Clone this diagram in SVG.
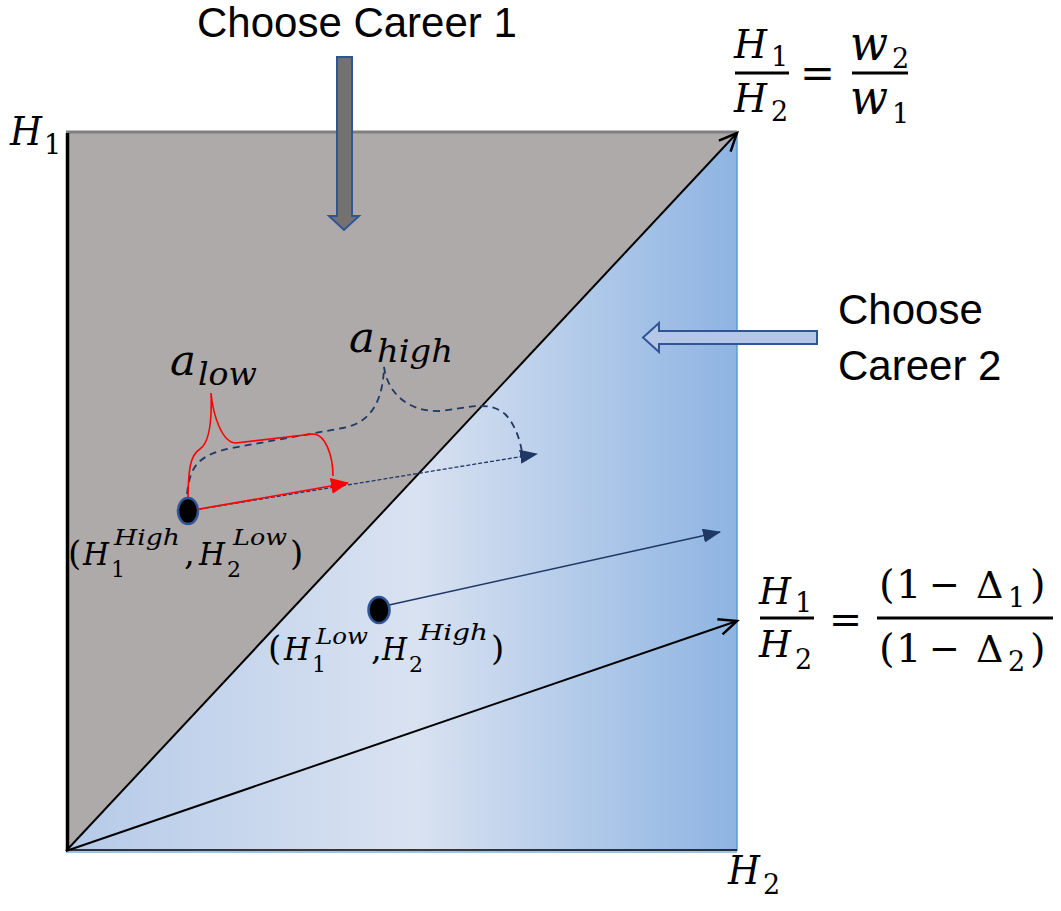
<svg xmlns="http://www.w3.org/2000/svg" width="1061" height="911" viewBox="0 0 1061 911">
<style>
.cal{font-family:"Liberation Sans","Open Sans",sans-serif;font-size:42px;fill:#000}
.mi{font-family:"DejaVu Serif","Liberation Serif",serif;font-style:italic;fill:#000}
.mu{font-family:"DejaVu Serif","Liberation Serif",serif;fill:#000}
.bar{fill:#000}
.pt{fill:#000;stroke:#2f5597;stroke-width:2.5}
</style>
<defs>
<linearGradient id="blueGrad" gradientUnits="userSpaceOnUse" x1="66" y1="0" x2="737" y2="0">
<stop offset="0" stop-color="#b5cae8"/>
<stop offset="0.52" stop-color="#d9e2f1"/>
<stop offset="1" stop-color="#8eb4e2"/>
</linearGradient>
<marker id="openBlack" markerUnits="userSpaceOnUse" markerWidth="24" markerHeight="22" refX="21" refY="11" orient="auto">
<path d="M3,3 L21,11 L3,19" fill="none" stroke="#000" stroke-width="2.5"/>
</marker>
<marker id="navyHead" markerUnits="userSpaceOnUse" markerWidth="18" markerHeight="14" refX="17" refY="7" orient="auto">
<path d="M0,0 L18,7 L0,14 z" fill="#203864"/>
</marker>
<marker id="redHead" markerUnits="userSpaceOnUse" markerWidth="18" markerHeight="16" refX="17" refY="8" orient="auto">
<path d="M0,0 L18,8 L0,16 z" fill="#ff0000"/>
</marker>
</defs>

<g id="plane">
<rect x="66" y="132" width="671" height="719" fill="url(#blueGrad)"/>
<polygon points="66,132 737,132 66,851" fill="#aeaaaa"/>
<line x1="66" y1="132" x2="737" y2="132" stroke="#7f7f7f" stroke-width="3"/>
<line x1="737" y1="133" x2="737" y2="851" stroke="#5b9bd5" stroke-width="1.5"/>
<line x1="66" y1="852" x2="737" y2="852" stroke="#9dc3e6" stroke-width="2"/>
<line x1="66" y1="850" x2="737" y2="850" stroke="#000" stroke-width="1.5"/>
<line x1="67.5" y1="133" x2="67.5" y2="851" stroke="#000" stroke-width="3.5"/>
</g>

<g id="connectors">
<line x1="66" y1="851" x2="737" y2="133" stroke="#000" stroke-width="2" marker-end="url(#openBlack)"/>
<line x1="66" y1="851" x2="737" y2="621" stroke="#000" stroke-width="2" marker-end="url(#openBlack)"/>
<line x1="389" y1="605" x2="720" y2="532" stroke="#203864" stroke-width="1.5" marker-end="url(#navyHead)"/>
<line x1="188" y1="511" x2="537" y2="454" stroke="#203864" stroke-width="1.3" stroke-dasharray="4,2" marker-end="url(#navyHead)"/>
<line x1="188" y1="511" x2="348" y2="483" stroke="#ff0000" stroke-width="1.6" marker-end="url(#redHead)"/>
<path d="M187,494 C190,466 198,455 232,448 L343,428 C370,423 383,402 384,367 C388,395 410,412 440,411 C468,408 488,400 505,414 C515,424 520,440 522,452" fill="none" stroke="#203864" stroke-width="1.8" stroke-dasharray="7,5"/>
<path d="M188,505 C188,470 190,455 200,449 C210,442 212,420 211,393 C213,415 222,443 236,443 L313,434 C325,434 333,455 333,476" fill="none" stroke="#ff0000" stroke-width="1.6"/>
</g>

<g id="choose-career-1">
<text class="cal" x="197" y="37">Choose Career 1</text>
<path d="M337,57 L352,57 L352,216 L359,216 L344,230 L329,216 L337,216 Z" fill="#767171" stroke="#2f5597" stroke-width="2"/>
</g>

<g id="choose-career-2">
<text class="cal" x="838" y="324">Choose</text>
<text class="cal" x="838" y="380">Career 2</text>
<path d="M817,331 L817,344 L659,344 L659,352 L643,337.5 L659,323 L659,331 Z" fill="#b4c7e7" stroke="#2f5597" stroke-width="2"/>
</g>

<g id="label-h1-axis">
<text class="mi" x="10" y="145" font-size="40" textLength="32" lengthAdjust="spacingAndGlyphs">H</text>
<text class="mu" x="44" y="154" font-size="27">1</text>
</g>

<g id="label-h2-axis">
<text class="mi" x="728" y="884" font-size="40" textLength="32" lengthAdjust="spacingAndGlyphs">H</text>
<text class="mu" x="763" y="894" font-size="27">2</text>
</g>

<g id="formula-top">
<text class="mi" x="734" y="58" font-size="40" textLength="33" lengthAdjust="spacingAndGlyphs">H</text>
<text class="mu" x="771" y="66" font-size="27">1</text>
<rect class="bar" x="735" y="71.5" width="54" height="3"/>
<text class="mi" x="734" y="112" font-size="40" textLength="33" lengthAdjust="spacingAndGlyphs">H</text>
<text class="mu" x="771" y="121" font-size="27">2</text>
<text class="mu" x="800" y="88" font-size="42" textLength="35" lengthAdjust="spacingAndGlyphs">=</text>
<text class="mi" x="850" y="60" font-size="48" textLength="38" lengthAdjust="spacingAndGlyphs">w</text>
<text class="mu" x="892" y="68" font-size="27">2</text>
<rect class="bar" x="852" y="71.5" width="56" height="3"/>
<text class="mi" x="850" y="114" font-size="48" textLength="38" lengthAdjust="spacingAndGlyphs">w</text>
<text class="mu" x="892" y="123" font-size="27">1</text>
</g>

<g id="formula-bottom">
<text class="mi" x="759" y="604" font-size="38" textLength="32" lengthAdjust="spacingAndGlyphs">H</text>
<text class="mu" x="795" y="612" font-size="27">1</text>
<rect class="bar" x="760" y="616.5" width="54" height="3"/>
<text class="mi" x="759" y="657" font-size="38" textLength="32" lengthAdjust="spacingAndGlyphs">H</text>
<text class="mu" x="795" y="669" font-size="27">2</text>
<text class="mu" x="829" y="633" font-size="40" textLength="33" lengthAdjust="spacingAndGlyphs">=</text>
<text class="mu" x="879" y="598" font-size="40">(</text>
<text class="mu" x="896" y="598" font-size="40">1</text>
<text class="mu" x="929" y="598" font-size="40" textLength="31" lengthAdjust="spacingAndGlyphs">−</text>
<text class="mu" x="976" y="598" font-size="38">Δ</text>
<text class="mu" x="1008" y="607" font-size="27">1</text>
<text class="mu" x="1030" y="598" font-size="40">)</text>
<rect class="bar" x="877" y="616.5" width="176" height="3"/>
<text class="mu" x="879" y="662" font-size="40">(</text>
<text class="mu" x="896" y="662" font-size="40">1</text>
<text class="mu" x="929" y="662" font-size="40" textLength="31" lengthAdjust="spacingAndGlyphs">−</text>
<text class="mu" x="976" y="662" font-size="38">Δ</text>
<text class="mu" x="1008" y="671" font-size="27">2</text>
<text class="mu" x="1030" y="662" font-size="40">)</text>
</g>

<g id="label-a-low">
<text class="mi" x="170" y="375" font-size="42" textLength="26" lengthAdjust="spacingAndGlyphs">a</text>
<text class="mi" x="198" y="385" font-size="31" textLength="59" lengthAdjust="spacingAndGlyphs">low</text>
</g>

<g id="label-a-high">
<text class="mi" x="349" y="352" font-size="42" textLength="26" lengthAdjust="spacingAndGlyphs">a</text>
<text class="mi" x="377" y="362" font-size="31" textLength="76" lengthAdjust="spacingAndGlyphs">high</text>
</g>

<g id="point-high">
<ellipse class="pt" cx="188" cy="511" rx="10" ry="13"/>
</g>
<g id="label-point-high">
<text class="mu" x="68" y="565" font-size="34">(</text>
<text class="mi" x="83" y="565" font-size="32" textLength="26" lengthAdjust="spacingAndGlyphs">H</text>
<text class="mu" x="111" y="577" font-size="22">1</text>
<text class="mi" x="114" y="545" font-size="22" textLength="66" lengthAdjust="spacingAndGlyphs">High</text>
<text class="mu" x="184" y="565" font-size="34">,</text>
<text class="mi" x="199" y="565" font-size="32" textLength="26" lengthAdjust="spacingAndGlyphs">H</text>
<text class="mu" x="227" y="577" font-size="22">2</text>
<text class="mi" x="233" y="545" font-size="22" textLength="54" lengthAdjust="spacingAndGlyphs">Low</text>
<text class="mu" x="290" y="565" font-size="34">)</text>
</g>

<g id="point-low">
<ellipse class="pt" cx="379" cy="610" rx="10.5" ry="13"/>
</g>
<g id="label-point-low">
<text class="mu" x="268" y="660" font-size="34">(</text>
<text class="mi" x="284" y="660" font-size="32" textLength="26" lengthAdjust="spacingAndGlyphs">H</text>
<text class="mu" x="312" y="672" font-size="22">1</text>
<text class="mi" x="316" y="644" font-size="22" textLength="52" lengthAdjust="spacingAndGlyphs">Low</text>
<text class="mu" x="371" y="660" font-size="34">,</text>
<text class="mi" x="382" y="660" font-size="32" textLength="25" lengthAdjust="spacingAndGlyphs">H</text>
<text class="mu" x="409" y="672" font-size="22">2</text>
<text class="mi" x="419" y="640" font-size="22" textLength="69" lengthAdjust="spacingAndGlyphs">High</text>
<text class="mu" x="491" y="660" font-size="34">)</text>
</g>
</svg>
